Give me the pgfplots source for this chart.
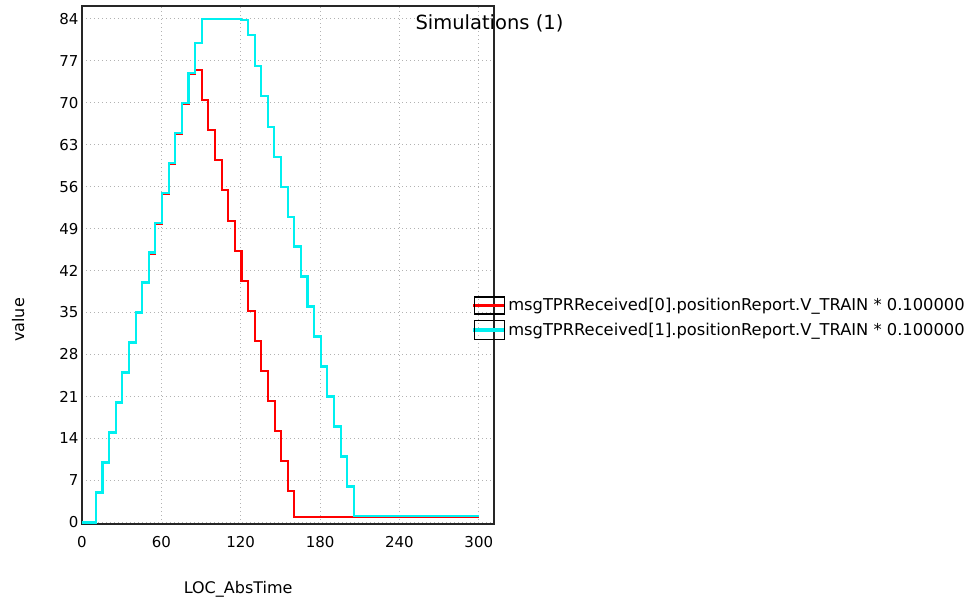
\documentclass[border=0pt]{standalone}
\usepackage{fontspec}
\setmainfont{DejaVu Sans}
\usepackage{pgfplots}
\pgfplotsset{compat=1.18}
\definecolor{cyanline}{RGB}{0,240,240}
\definecolor{redline}{RGB}{255,0,0}
\begin{document}
\begin{tikzpicture}
\begin{axis}[
  name=ax,
  scale only axis, width=412pt, height=518pt,
  xmin=0, xmax=311.5, ymin=-0.25, ymax=86.1,
  xtick={0,60,...,300}, ytick={0,7,...,84},
  grid=major,
  major grid style={black!30, dash pattern=on 1.2pt off 2.8pt, line width=0.9pt},
  axis line style={line width=1.6pt, black!85},
  major tick length=0pt,
  /pgf/number format/assume math mode=true,
  tick label style={font=\fontsize{15}{18}\selectfont},
  xticklabel style={yshift=-9pt},
  xlabel={LOC\_AbsTime}, ylabel={value},
  label style={font=\fontsize{16}{19}\selectfont},
  xlabel style={at={(axis description cs:0.379,-0.127)}, anchor=center},
  ylabel style={at={(axis description cs:-0.155,0.394)}, anchor=center},
  title={Simulations (1)},
  title style={at={(axis description cs:0.989,0.969)}, anchor=center, yshift=-7pt, font=\fontsize{19.5}{22}\selectfont},
  legend style={at={(axis description cs:0.949,0.440)}, anchor=north west, draw=none, fill=none,
    font=\fontsize{16.3}{19.5}\selectfont, row sep=5pt, inner sep=0pt, cells={anchor=west},
    nodes={inner xsep=3pt}},
  legend cell align=left,
]
\addplot[const plot, color=redline, line width=2.1pt,
  legend image code/.code={
    \fill[redline] (0pt,-0.75pt) rectangle (30pt,0.75pt);
    \draw[black, line width=1.3pt] (0pt,-8.5pt) rectangle (30pt,8.5pt);
  }] coordinates {
(0,0) (10.5,4.85) (15.5,9.85) (20.5,14.85) (25.5,19.85) (30.5,24.85) (35.5,29.85) (40.5,34.85)
(45.5,39.85) (50.5,44.8) (55.5,49.8) (60.5,54.8) (65.5,59.8) (70.5,64.8) (75.5,69.7)
(80.5,74.7) (85.6,75.4) (90.6,70.4) (95.6,65.4) (100.6,60.4) (105.6,55.4) (110.6,50.3)
(115.6,45.3) (120.6,40.3) (125.6,35.3) (130.6,30.3) (135.6,25.3) (140.6,20.2)
(145.6,15.2) (150.6,10.2) (155.6,5.2) (160.6,0.9) (300,0.9)
};
\addlegendentry{msgTPRReceived[0].positionReport.V\_TRAIN * 0.100000}
\addplot[const plot, color=cyanline, line width=2.1pt,
  legend image code/.code={
    \fill[cyanline] (0pt,-0.75pt) rectangle (30pt,0.75pt);
    \draw[black, line width=1.3pt] (0pt,-9.5pt) rectangle (30pt,9.5pt);
  }] coordinates {
(0,0) (10.5,5) (15.5,10) (20.5,15) (25.5,20) (30.5,25) (35.5,30) (40.5,35) (45.5,40)
(50.5,45) (55.5,50) (60.5,55) (65.5,60) (70.5,65) (75.5,70) (80.5,75) (85.5,80)
(90.5,84) (120.5,83.7) (125.5,81.2) (130.5,76.1) (135.5,71.1) (140.5,66) (145.5,61)
(150.5,56) (155.5,51) (160.5,46) (165.5,41) (170.5,36) (175.5,31) (180.5,26)
(185.5,21) (190.5,16) (195.5,11) (200.5,6) (205.5,1.05) (300,1.05)
};
\addlegendentry{msgTPRReceived[1].positionReport.V\_TRAIN * 0.100000}
\end{axis}
\pgfresetboundingbox
\path (ax.south west) ++(-82pt,-80pt) rectangle ++(969pt,604pt);
\end{tikzpicture}
\end{document}
